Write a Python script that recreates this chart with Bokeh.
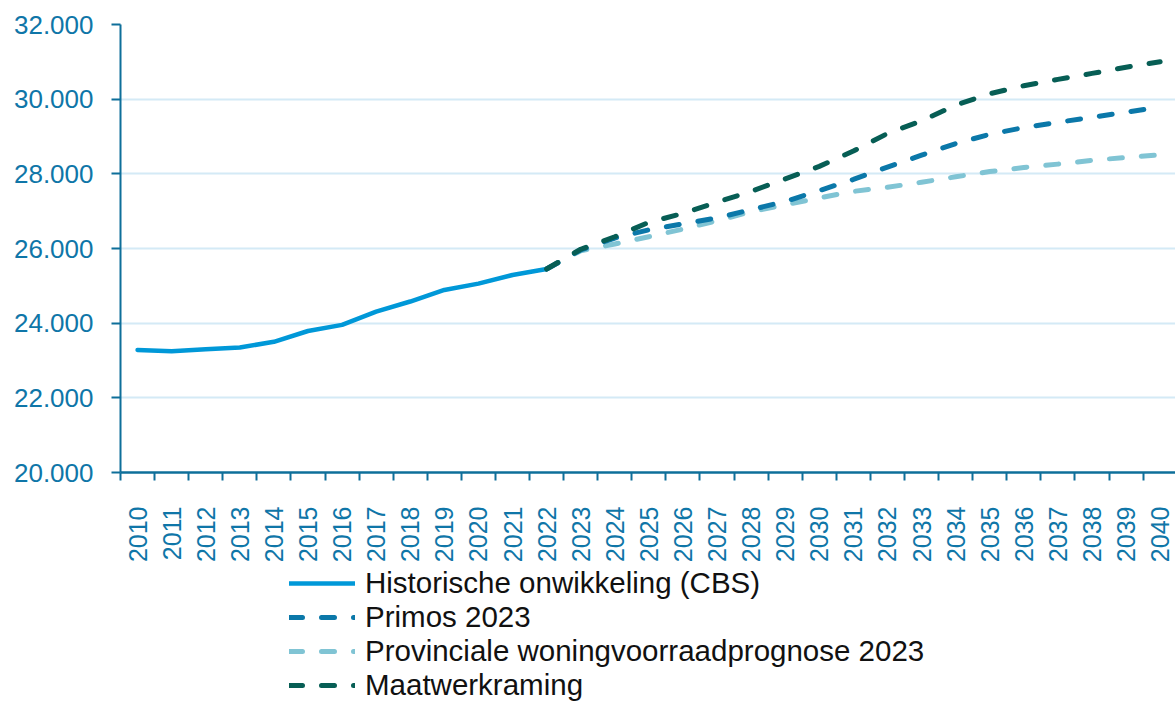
import math
from bokeh.plotting import figure
from bokeh.layouts import column
from bokeh.models import Range1d, FixedTicker, Legend, LegendItem
from bokeh.embed import file_html
from bokeh.resources import INLINE

# ---- data ----
years_hist = [2010, 2011, 2012, 2013, 2014, 2015, 2016, 2017, 2018, 2019, 2020, 2021, 2022]
historisch = [23280, 23250, 23300, 23350, 23500, 23790, 23955, 24310, 24580, 24890, 25060, 25290, 25450]

years_prog = [2022, 2023, 2024, 2025, 2026, 2027, 2028, 2029, 2030, 2031,
              2032, 2033, 2034, 2035, 2036, 2037, 2038, 2039, 2040]
primos = [25450, 25960, 26280, 26500, 26660, 26820, 27040, 27260, 27550, 27850,
          28180, 28500, 28810, 29060, 29240, 29380, 29515, 29650, 29790]
provinciaal = [25450, 25940, 26120, 26315, 26520, 26745, 26985, 27170, 27355, 27530,
               27640, 27775, 27920, 28060, 28170, 28260, 28360, 28440, 28510]
maatwerk = [25450, 25980, 26315, 26700, 26940, 27240, 27530, 27865, 28200, 28610,
            29080, 29420, 29840, 30145, 30360, 30530, 30690, 30855, 31000]

x_years = list(range(2010, 2041))
y_ticks = [20000, 22000, 24000, 26000, 28000, 30000, 32000]
y_labels = ["20.000", "22.000", "24.000", "26.000", "28.000", "30.000", "32.000"]

labels = ["Historische onwikkeling (CBS)", "Primos 2023",
          "Provinciale woningvoorraadprognose 2023", "Maatwerkraming"]

# ---- style ----
AXIS = "#0e6f9a"
TICKTXT = "#0f76a8"
GRID = "#d4eaf6"
C_HIST = "#0098d8"
C_PRIM = "#0b78a9"
C_PROV = "#80c4d4"
C_MAAT = "#075e55"
FONT = "Liberation Sans"
DASH = "13 19"

p = figure(width=1175, height=565, output_backend="svg", toolbar_location=None,
           x_range=Range1d(2009.5, 2040.45), y_range=Range1d(20000, 32000),
           min_border_left=120, min_border_right=0, min_border_top=24,
           min_border_bottom=93)
p.outline_line_color = None
p.background_fill_color = "white"
p.border_fill_color = "white"

# axes
xa = p.xaxis[0]
xa.ticker = FixedTicker(ticks=x_years, minor_ticks=[y - 0.5 for y in x_years])
xa.major_tick_line_color = None
xa.minor_tick_line_color = AXIS
xa.minor_tick_line_width = 2
xa.minor_tick_out = 8
xa.minor_tick_in = 0
xa.axis_line_color = AXIS
xa.axis_line_width = 2.5
xa.major_label_orientation = math.pi / 2
xa.major_label_text_font = FONT
xa.major_label_text_font_size = "25px"
xa.major_label_text_color = TICKTXT
xa.major_label_standoff = 26
xa.major_label_overrides = {y: str(y) for y in x_years}

ya = p.yaxis[0]
ya.ticker = FixedTicker(ticks=y_ticks)
ya.major_label_overrides = {t: l for t, l in zip(y_ticks, y_labels)}
ya.major_tick_line_color = AXIS
ya.major_tick_line_width = 2
ya.major_tick_out = 9
ya.major_tick_in = 0
ya.minor_tick_line_color = None
ya.axis_line_color = AXIS
ya.axis_line_width = 2
ya.major_label_text_font = FONT
ya.major_label_text_font_size = "26px"
ya.major_label_text_color = TICKTXT
ya.major_label_standoff = 18

p.xgrid.visible = False
p.ygrid.grid_line_color = GRID
p.ygrid.grid_line_width = 2

# lines
p.line(years_hist, historisch, line_color=C_HIST, line_width=4.5,
       line_cap="round", line_join="round")
p.line(years_prog, provinciaal, line_color=C_PROV, line_width=5,
       line_dash=DASH, line_cap="round", line_join="round")
p.line(years_prog, primos, line_color=C_PRIM, line_width=5,
       line_dash=DASH, line_cap="round", line_join="round")
p.line(years_prog, maatwerk, line_color=C_MAAT, line_width=5,
       line_dash=DASH, line_cap="round", line_join="round")

# ---- legend figure ----
q = figure(width=1175, height=137, output_backend="svg", toolbar_location=None,
           x_range=Range1d(0, 1), y_range=Range1d(0, 1),
           x_axis_location=None, y_axis_location=None, min_border=0)
q.outline_line_color = None
q.grid.visible = False
q.background_fill_color = "white"
q.border_fill_color = "white"

styles = [(C_HIST, 4.5, "solid"), (C_PRIM, 5, DASH), (C_PROV, 5, DASH), (C_MAAT, 5, DASH)]
items = []
for lab, (c, w, d) in zip(labels, styles):
    # proxy renderer (data outside the visible range) only for the legend glyph
    r = q.line([5, 6], [5, 6], line_color=c, line_width=w, line_dash=d,
               line_cap="round", line_join="round")
    items.append(LegendItem(label=lab, renderers=[r]))

legend = Legend(items=items, location=(169, 0), orientation="vertical",
                glyph_width=66, glyph_height=34, label_height=34, spacing=0,
                label_standoff=10, padding=0, margin=0,
                border_line_color=None, background_fill_alpha=0,
                label_text_font=FONT, label_text_font_size="29.5px",
                label_text_color="#111111")
q.add_layout(legend, "center")

layout = column(p, q, spacing=0)
open("out.html", "w").write(file_html(layout, INLINE))
